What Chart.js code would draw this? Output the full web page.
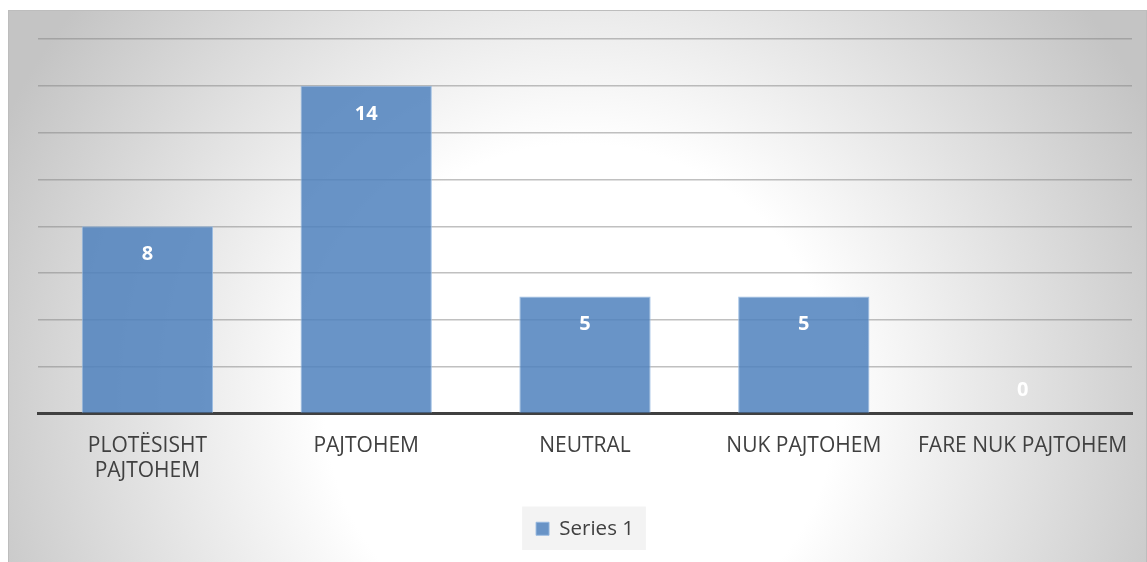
<!DOCTYPE html>
<html>
<head>
<meta charset="utf-8">
<script src="https://cdn.jsdelivr.net/npm/chart.js@4"></script>
<style>
  html, body { margin: 0; padding: 0; background: #fff; }
  #wrap { width: 1147px; height: 562px; }
</style>
</head>
<body>
<div id="wrap"><canvas id="answers" width="1147" height="562"></canvas></div>
<script>
// kategoritë dhe vlerat
const categories = [['PLOTËSISHT', 'PAJTOHEM'], 'PAJTOHEM', 'NEUTRAL', 'NUK PAJTOHEM', 'FARE NUK PAJTOHEM'];
const series1 = [8, 14, 5, 5, 0];
const seriesName = 'Series 1';
const yMax = 16;
const yStep = 2;

const textColor = '#404040';
const fontFamily = '"Open Sans", "Liberation Sans", sans-serif';

// sfondi me gradient dhe kutia e legjendes
const backgroundPlugin = {
  id: 'bgBox',
  beforeDraw(chart) {
    const ctx = chart.ctx;
    ctx.save();
    ctx.fillStyle = '#ffffff';
    ctx.fillRect(0, 0, chart.width, chart.height);

    const g = ctx.createRadialGradient(580, 400, 0, 580, 400, 640);
    g.addColorStop(0, '#ffffff');
    g.addColorStop(0.4, '#ffffff');
    g.addColorStop(1, '#c4c4c4');
    ctx.fillStyle = g;
    ctx.fillRect(8, 10, chart.width - 8, chart.height - 10);
    ctx.strokeStyle = '#bdbdbd';
    ctx.lineWidth = 1;
    ctx.strokeRect(8.5, 10.5, chart.width - 9, chart.height - 9);

    const hb = chart.legend && chart.legend.legendHitBoxes[0];
    if (hb) {
      ctx.fillStyle = 'rgba(242,242,242,0.9)';
      ctx.fillRect(hb.left - 14, hb.top - 12, hb.width + 26, hb.height + 23);
    }
    ctx.restore();
  }
};

// vlerat mbi shtylla (brenda, lart)
const valueLabels = {
  id: 'valueLabels',
  afterDatasetsDraw(chart) {
    const ctx = chart.ctx;
    const meta = chart.getDatasetMeta(0);
    ctx.save();
    ctx.font = 'bold 20px ' + fontFamily;
    ctx.fillStyle = '#ffffff';
    ctx.textAlign = 'center';
    ctx.textBaseline = 'middle';
    meta.data.forEach((bar, i) => {
      const y = Math.min(bar.y + 28, bar.base - 23);
      ctx.fillText(String(series1[i]), bar.x, y);
    });
    ctx.restore();
  }
};

const chart = new Chart(document.getElementById('answers'), {
  type: 'bar',
  data: {
    labels: categories,
    datasets: [{
      label: seriesName,
      data: series1,
      backgroundColor: 'rgba(79,129,189,0.85)',
      borderColor: 'rgba(150,185,225,0.9)',
      borderWidth: 1,
      categoryPercentage: 0.6,
      barPercentage: 1
    }]
  },
  options: {
    responsive: false,
    animation: false,
    layout: { padding: { top: 39, left: 38, right: 15, bottom: 13 } },
    plugins: {
      tooltip: { enabled: false },
      legend: {
        position: 'bottom',
        labels: {
          boxWidth: 13,
          boxHeight: 13,
          color: textColor,
          font: { family: fontFamily, size: 20.5 },
          padding: 14
        }
      }
    },
    scales: {
      x: {
        grid: { display: false },
        border: { display: true, color: '#404040', width: 3 },
        ticks: {
          color: textColor,
          font: { family: fontFamily, size: 21 },
          maxRotation: 0,
          autoSkip: false,
          padding: 12
        },
        afterFit(scale) { scale.height = 91; }
      },
      y: {
        min: 0,
        max: yMax,
        ticks: { display: false, stepSize: yStep },
        border: { display: false },
        grid: { color: 'rgba(130,130,130,0.5)', lineWidth: 1.5, drawTicks: false },
        afterFit(scale) { scale.width = 0; }
      }
    }
  },
  plugins: [backgroundPlugin, valueLabels]
});
</script>
</body>
</html>
